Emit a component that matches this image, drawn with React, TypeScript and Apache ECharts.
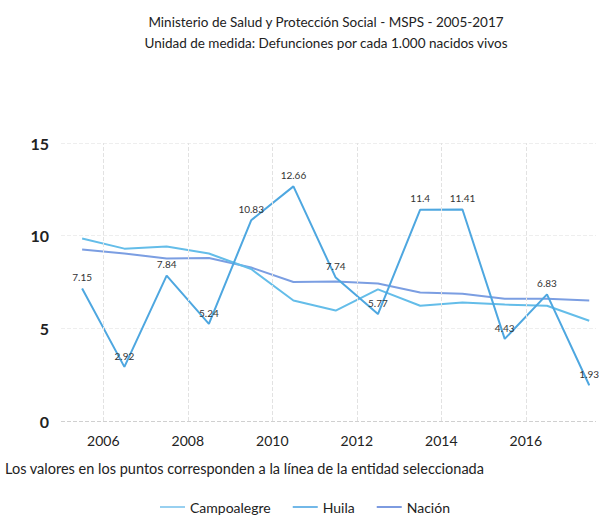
import React, { useEffect, useRef } from "react";
import * as echarts from "echarts";

const years = [2005, 2006, 2007, 2008, 2009, 2010, 2011, 2012, 2013, 2014, 2015, 2016, 2017];
const campoalegre = [7.15, 2.92, 7.84, 5.24, 10.83, 12.66, 7.74, 5.77, 11.4, 11.41, 4.43, 6.83, 1.93];
const huila = [9.85, 9.3, 9.42, 9.04, 8.2, 6.5, 5.96, 7.1, 6.22, 6.4, 6.28, 6.22, 5.41];
const nacion = [9.26, 9.04, 8.77, 8.8, 8.28, 7.5, 7.53, 7.42, 6.93, 6.87, 6.6, 6.6, 6.5];
const yearTicks = [2006, 2008, 2010, 2012, 2014, 2016];
const yTicks = [0, 5, 10, 15];

const FONT = "Lato, 'Noto Sans', sans-serif";

export default function App() {
  const ref = useRef<HTMLDivElement>(null);
  useEffect(() => {
    if (!ref.current) return;
    const chart = echarts.init(ref.current, undefined, { renderer: "svg" });
    const pts = (arr: number[]) => arr.map((v, i) => [years[i] + 0.5, v]);
    chart.setOption({
      animation: false,
      backgroundColor: "#ffffff",
      textStyle: { fontFamily: FONT },
      title: {
        text: "Ministerio de Salud y Protección Social - MSPS - 2005-2017\nUnidad de medida: Defunciones por cada 1.000 nacidos vivos",
        left: 321,
        top: 6,
        textAlign: "center",
        textStyle: { fontFamily: FONT, fontSize: 13.5, fontWeight: "normal", color: "#222", lineHeight: 21 },
      },
      graphic: [
        {
          type: "text",
          left: 5,
          top: 461,
          style: {
            text: "Los valores en los puntos corresponden a la línea de la entidad seleccionada",
            font: `14.5px ${FONT}`,
            fill: "#222",
          },
        },
      ],
      legend: {
        bottom: 1,
        left: 155,
        icon: "rect",
        itemWidth: 25,
        itemHeight: 2,
        itemGap: 22,
        textStyle: { fontFamily: FONT, fontSize: 14, color: "#222" },
        data: [
          { name: "Campoalegre", itemStyle: { color: "#98d0f0", opacity: 1 } },
          { name: "Huila", itemStyle: { color: "#72b8e8" } },
          { name: "Nación", itemStyle: { color: "#7d9be0" } },
        ],
      },
      grid: { left: 61, right: 0, top: 143, bottom: 99 },
      xAxis: {
        type: "value",
        min: 2005,
        max: 2017.66,
        interval: 1,
        axisLine: { show: false },
        axisTick: { show: false },
        splitLine: { show: false },
        axisLabel: {
          margin: 12,
          fontSize: 14,
          color: "#222",
          fontFamily: FONT,
          formatter: (v: number) => {
            const r = Math.round(v);
            return Math.abs(v - r) < 1e-6 && yearTicks.includes(r) ? String(r) : "";
          },
        },
      },
      yAxis: {
        type: "value",
        min: yTicks[0],
        max: yTicks[yTicks.length - 1],
        interval: 5,
        axisLine: { show: false },
        axisTick: { show: false },
        splitLine: { show: true, lineStyle: { color: "#eeeeee", type: "dashed" } },
        axisLabel: { margin: 12, fontSize: 16, fontWeight: "bold", color: "#222", fontFamily: FONT },
      },
      series: [
        {
          name: "Nación",
          type: "line",
          data: pts(nacion),
          symbol: "none",
          lineStyle: { width: 2, color: "#7b9ee2" },
          itemStyle: { color: "#7b9ee2" },
          markLine: {
            silent: true,
            symbol: "none",
            label: { show: false },
            lineStyle: { color: "#e2e2e2", type: "dashed", width: 1 },
            data: yearTicks.map((y) => ({ xAxis: y })),
          },
        },
        {
          name: "Huila",
          type: "line",
          data: pts(huila),
          symbol: "none",
          lineStyle: { width: 2, color: "#64bde9" },
          itemStyle: { color: "#64bde9" },
          markLine: {
            silent: true,
            symbol: "none",
            label: { show: false },
            lineStyle: { color: "#d0d0d0", type: "dashed", width: 1 },
            data: [{ yAxis: 0 }],
          },
        },
        {
          name: "Campoalegre",
          type: "line",
          data: pts(campoalegre),
          symbol: "circle",
          symbolSize: 0.5,
          showSymbol: true,
          lineStyle: { width: 2, color: "#4ea7e0" },
          itemStyle: { color: "#4ea7e0" },
          label: {
            show: true,
            position: "top",
            distance: 6,
            fontSize: 10,
            color: "#333",
            fontFamily: FONT,
          },
        },
      ],
    });
    return () => chart.dispose();
  }, []);
  return (
    <div
      ref={ref}
      style={{ position: "absolute", left: 0, top: 0, width: 599, height: 520 }}
    />
  );
}
